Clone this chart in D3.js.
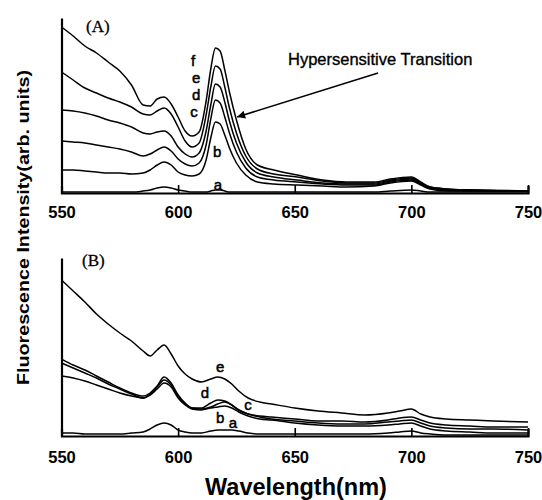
<!DOCTYPE html>
<html>
<head>
<meta charset="utf-8">
<script src="https://cdn.jsdelivr.net/npm/d3@7"></script>
<style>
  body { margin: 0; background: #fff; }
  svg { display: block; }
</style>
</head>
<body>
<svg id="chart" width="542" height="500"></svg>
<script>
// ---------- DATA ----------
const xTicks = [550, 600, 650, 700, 750];

// Panel A wavelength grid (nm)
const gridA = [550,555,560,565,570,575,580,585,588,591,594,597,600,603,606,609,612,614,616,618,620,622,625,629,634,641,651,662,672,684,691,700,704,708,715,725,750];
const A_f = [166,157,147,140,131,122,108,88,87,94,96,89,76,62,57,61,92,124,145,142,123,101,73,44,28,23,18,13,11,11,14,16,11,6,4,3,2];
const A_e = [121,113,105,100,95,91,86,79,78,82,85,79,66,52,46,50,78,106,127,124,106,85,60,37,24,19,16,12,10,10,13,15,10,6,4,3,2];
const A_d = [83,82,80,77,73,70,66,60,59,61,62,57,46,39,36,40,62,88,109,106,91,72,50,31,20,16,13,10,9,9,12,14,10,5,3,3,2];
const A_c = [52,51,50,48,46,44,41,37,39,43,46,42,34,29,27,30,48,74,93,90,76,60,41,25,16,13,11,9,8,8,11,13,9,5,3,2,2];
const A_b = [23,23,22,21,20,20,19,20,23,28,31,28,21,18,17,19,33,55,71,69,58,45,30,18,11,9,8,7,6,7,10,12,8,4,2,2,2];
const A_a = [1,1,1,1,1,1,1,2,3,5,6,5,3,2,1,1,1,2,3,3,2,1,1,1,1,1,1,1,1,1,2,3,2,1,1,1,1];

// Panel B wavelength grid (nm)
const gridB = [550,555,560,565,570,575,580,585,588,591,594,597,600,603,606,610,614,617,620,623,626,630,635,640,650,660,670,680,690,695,700,704,708,715,725,735,750];
const B_e = [156,145,134,122,112,103,95,85,80,86,91,82,70,62,57,54,57,59,57,52,45,38,34,32,28,25,23,21,23,25,27,22,19,17,16,15,14];
const B_d = [77,71,66,60,54,48,43,40,43,50,59,53,41,33,28,28,33,36,35,31,26,22,20,19,17,15,15,14,16,18,19,16,13,11,10,9,9];
const B_c = [73,68,63,58,52,47,42,38,42,49,56,51,39,32,28,27,29,32,34,31,26,22,19,17,15,13,12,12,14,15,16,13,10,8,7,7,6];
const B_b = [60,58,55,51,47,43,40,38,41,47,53,49,38,31,27,26,28,29,30,28,24,20,17,16,13,11,10,10,11,12,13,10,7,5,4,3,3];
const B_a = [3,3,2,2,2,2,3,4,7,11,13,11,6,4,3,3,5,6,6,6,5,3,2,2,2,2,2,2,3,4,5,3,2,1,1,1,1];

const seriesA = [A_f, A_e, A_d, A_c, A_b, A_a];
const seriesB = [B_e, B_d, B_c, B_b, B_a];

// curve letter labels: [letter, wavelength, intensity]
const labelsA = [["f",606.4,127],["e",607.7,110],["d",607.7,93],["c",606.8,76],["b",616.7,36],["a",617.1,3]];
const labelsB = [["e",618,64],["d",611.5,38],["c",630,26],["b",618,13],["a",623.5,8]];

// arrow annotation in data units [wavelength, intensity]
const arrowFrom = [685.7, 120];
const arrowTo = [625.3, 76];

// ---------- DRAW ----------
const svg = d3.select("#chart");
svg.append("rect").attr("width", 542).attr("height", 500).attr("fill", "#fff");

const x = d3.scaleLinear().domain([550, 750]).range([61.5, 528]);
const yA = d3.scaleLinear().domain([0, 175]).range([193, 18]);
const yB = d3.scaleLinear().domain([0, 178]).range([436, 258]);

function drawPanel(grid, series, y, labels, tag, tagX, tagY, padding) {
  const g = svg.append("g");
  const line = d3.line().x((d, i) => x(grid[i])).y(d => y(d)).curve(d3.curveMonotoneX);
  series.forEach(s => {
    g.append("path").datum(s).attr("d", line)
      .attr("fill", "none").attr("stroke", "#000").attr("stroke-width", 1.5)
      .attr("stroke-linejoin", "round");
  });
  // x axis
  const xa = d3.axisBottom(x).tickValues(xTicks).tickFormat(d3.format("d"))
    .tickSizeInner(-8).tickSizeOuter(-7).tickPadding(padding);
  const ax = g.append("g").attr("transform", `translate(0,${y(0)})`).call(xa);
  ax.select(".domain").attr("stroke", "#000").attr("stroke-width", 2.2);
  ax.selectAll(".tick line").attr("stroke", "#000").attr("stroke-width", 1.6);
  ax.selectAll(".tick text").attr("fill", "#000")
    .style("font-family", "'Liberation Sans', Arial, sans-serif")
    .style("font-size", "16.5px").style("font-weight", "bold");
  // y axis (line only)
  const ya = d3.axisLeft(y).tickValues([]).tickSizeOuter(0);
  const ay = g.append("g").attr("transform", `translate(${x(550)},0)`).call(ya);
  ay.select(".domain").attr("stroke", "#000").attr("stroke-width", 2.2);
  // curve letters
  labels.forEach(l => {
    g.append("text").attr("x", x(l[1])).attr("y", y(l[2]))
      .attr("text-anchor", "middle")
      .style("font-family", "'Liberation Sans', Arial, sans-serif")
      .style("font-size", "15px").attr("fill", "#000")
      .attr("stroke", "#000").attr("stroke-width", 0.5)
      .text(l[0]);
  });
  // panel tag
  g.append("text").attr("x", tagX).attr("y", tagY)
    .style("font-family", "'Liberation Serif', 'Times New Roman', serif")
    .style("font-size", "17px").attr("fill", "#000")
    .attr("stroke", "#000").attr("stroke-width", 0.3)
    .text(tag);
  return g;
}

drawPanel(gridA, seriesA, yA, labelsA, "(A)", 86, 32, 13.5);
drawPanel(gridB, seriesB, yB, labelsB, "(B)", 82, 266, 15.5);

// annotation
const defs = svg.append("defs");
defs.append("marker").attr("id", "arrowhead").attr("viewBox", "0 0 10 10")
  .attr("refX", 10).attr("refY", 5).attr("markerWidth", 11).attr("markerHeight", 8)
  .attr("markerUnits", "userSpaceOnUse").attr("orient", "auto")
  .append("path").attr("d", "M0,0L10,5L0,10Z").attr("fill", "#000");
svg.append("line")
  .attr("x1", x(arrowFrom[0])).attr("y1", yA(arrowFrom[1]))
  .attr("x2", x(arrowTo[0])).attr("y2", yA(arrowTo[1]))
  .attr("stroke", "#000").attr("stroke-width", 1.6)
  .attr("marker-end", "url(#arrowhead)");
svg.append("text").attr("x", 288).attr("y", 65)
  .style("font-family", "'Liberation Sans', Arial, sans-serif")
  .style("font-size", "16.5px").attr("fill", "#000")
  .attr("stroke", "#000").attr("stroke-width", 0.35)
  .text("Hypersensitive Transition");

// axis titles
svg.append("text").attr("x", 296).attr("y", 495).attr("text-anchor", "middle")
  .style("font-family", "'Liberation Sans', Arial, sans-serif")
  .style("font-size", "23.5px").style("font-weight", "bold").attr("fill", "#000")
  .text("Wavelength(nm)");
svg.append("text")
  .attr("transform", "translate(29,227.5) rotate(-90)")
  .attr("text-anchor", "middle")
  .attr("textLength", 315).attr("lengthAdjust", "spacingAndGlyphs")
  .style("font-family", "'Liberation Sans', Arial, sans-serif")
  .style("font-size", "17px").style("font-weight", "bold").attr("fill", "#000")
  .text("Fluorescence Intensity(arb. units)");
</script>
</body>
</html>
